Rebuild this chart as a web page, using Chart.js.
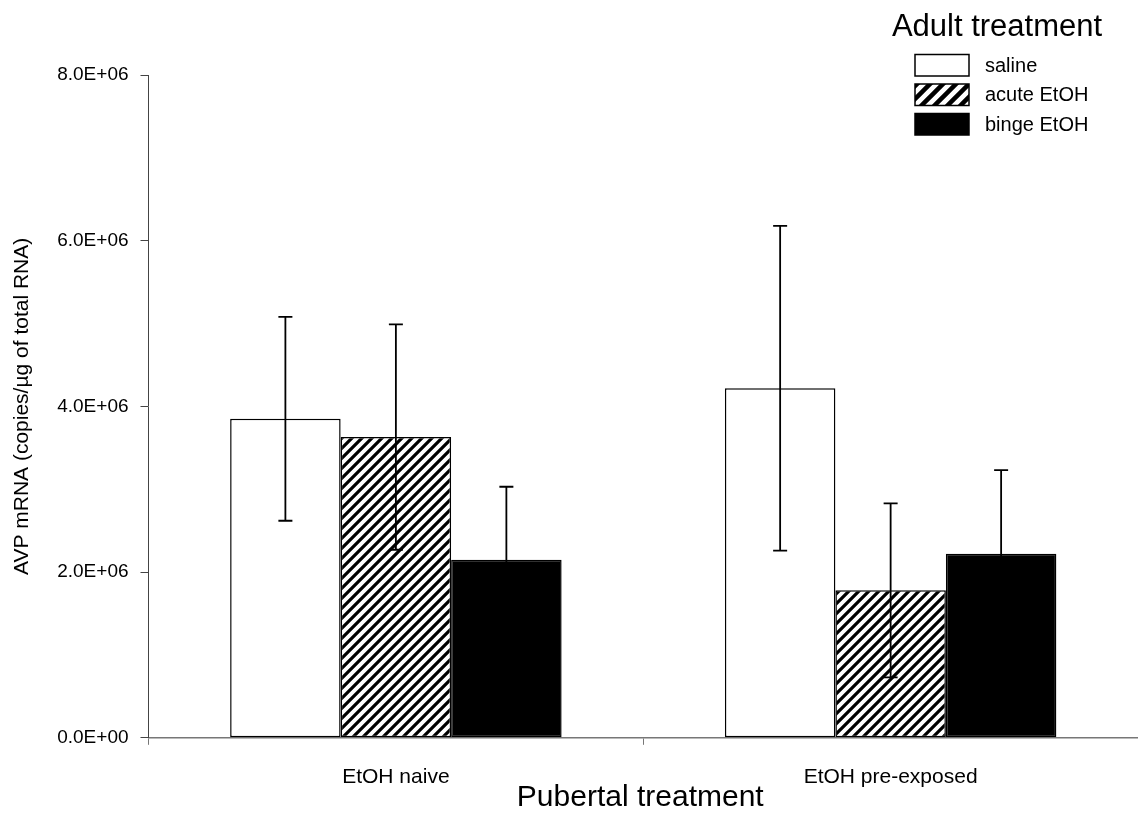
<!DOCTYPE html>
<html><head><meta charset="utf-8">
<script src="https://cdn.jsdelivr.net/npm/chart.js@4.4.1/dist/chart.umd.min.js"></script>
<style>html,body{margin:0;padding:0;background:#fff;}#wrap{width:1138px;height:813px;}</style>
</head><body><div id="wrap"><canvas id="c" width="1138" height="813"></canvas></div>
<script>
const categories = ['EtOH naive', 'EtOH pre-exposed'];
const seriesNames = ['saline', 'acute EtOH', 'binge EtOH'];
const salineMean = [3850000, 4220000];
const salineErr = [1230000, 1960000];
const acuteMean = [3630000, 1780000];
const acuteErr = [1360000, 1050000];
const bingeMean = [2150000, 2220000];
const bingeErr = [880000, 1010000];
const yTicks = [0, 2000000, 4000000, 6000000, 8000000];
const legendTitle = 'Adult treatment';
const xTitle = 'Pubertal treatment';
const yTitle = 'AVP mRNA (copies/\u00B5g of total RNA)';

const FONT = '"Liberation Sans", Arial, sans-serif';

function makeHatch(s, lw) {
  const p = document.createElement('canvas');
  p.width = s; p.height = s;
  const g = p.getContext('2d');
  g.fillStyle = '#fff'; g.fillRect(0, 0, s, s);
  g.strokeStyle = '#000'; g.lineWidth = lw;
  g.beginPath();
  g.moveTo(-3, s + 3); g.lineTo(s + 3, -3);
  g.moveTo(-3, 3); g.lineTo(3, -3);
  g.moveTo(s - 3, s + 3); g.lineTo(s + 3, s - 3);
  g.stroke();
  return document.getElementById('c').getContext('2d').createPattern(p, 'repeat');
}
const hatch = makeHatch(10, 3.2);
const legendHatch = makeHatch(13, 4.5);

function fmtExp(v) {
  if (v === 0) return '0.0E+00';
  const e = Math.floor(Math.log10(Math.abs(v)));
  const m = v / Math.pow(10, e);
  const es = (e < 0 ? '-' : '+') + String(Math.abs(e)).padStart(2, '0');
  return m.toFixed(1) + 'E' + es;
}

const errorBars = {
  id: 'errorBars',
  afterDatasetsDraw(chart) {
    const ctx = chart.ctx;
    const ys = chart.scales.y;
    ctx.save();
    ctx.strokeStyle = '#000';
    ctx.lineWidth = 1.8;
    chart.data.datasets.forEach((ds, i) => {
      const meta = chart.getDatasetMeta(i);
      meta.data.forEach((el, j) => {
        const m = ds.data[j], e = ds.errors[j];
        const x = el.x;
        const yt = ys.getPixelForValue(m + e);
        const yb = ys.getPixelForValue(m - e);
        const cap = 7;
        ctx.beginPath();
        ctx.moveTo(x, yt); ctx.lineTo(x, yb);
        ctx.moveTo(x - cap, yt); ctx.lineTo(x + cap, yt);
        ctx.moveTo(x - cap, yb); ctx.lineTo(x + cap, yb);
        ctx.stroke();
      });
    });
    ctx.restore();
  }
};

const customLegend = {
  id: 'customLegend',
  afterDraw(chart) {
    const ctx = chart.ctx;
    const area = chart.chartArea;
    ctx.save();
    ctx.fillStyle = '#000';
    // x-axis title
    ctx.font = '30px ' + FONT;
    ctx.textAlign = 'center';
    ctx.textBaseline = 'alphabetic';
    ctx.fillText(xTitle, (area.left + area.right) / 2 - 3, 806);
    // legend
    ctx.font = '31px ' + FONT;
    ctx.fillText(legendTitle, 997, 36);
    const bx = 915, bw = 54, bh = 21.5, y0 = 54.5, dy = 29.5;
    ctx.font = '20px ' + FONT;
    ctx.textAlign = 'left';
    ctx.textBaseline = 'middle';
    chart.data.datasets.forEach((ds, i) => {
      const y = y0 + i * dy;
      ctx.fillStyle = (ds.backgroundColor === hatch) ? legendHatch : ds.backgroundColor;
      ctx.fillRect(bx, y, bw, bh);
      ctx.strokeStyle = '#000';
      ctx.lineWidth = 1.5;
      ctx.strokeRect(bx, y, bw, bh);
      ctx.fillStyle = '#000';
      ctx.fillText(ds.label, 985, y + bh / 2 + 1);
    });
    ctx.restore();
  }
};

new Chart(document.getElementById('c'), {
  type: 'bar',
  data: {
    labels: categories,
    datasets: [
      { label: seriesNames[0], data: salineMean, errors: salineErr, backgroundColor: '#fff', borderColor: '#000', borderWidth: 1.5 },
      { label: seriesNames[1], data: acuteMean, errors: acuteErr, backgroundColor: hatch, borderColor: '#000', borderWidth: 1.5 },
      { label: seriesNames[2], data: bingeMean, errors: bingeErr, backgroundColor: '#000', borderColor: '#000', borderWidth: 1.5 }
    ]
  },
  options: {
    responsive: false,
    animation: false,
    devicePixelRatio: 1,
    layout: { padding: { top: 75, left: 0, right: 0, bottom: 3 } },
    datasets: { bar: { barPercentage: 1, categoryPercentage: 0.67, borderSkipped: false } },
    plugins: { legend: { display: false }, tooltip: { enabled: false } },
    scales: {
      x: {
        grid: { display: true, drawOnChartArea: false, drawTicks: true, tickLength: 7, color: '#777', offset: true },
        border: { display: true, color: '#777', width: 1.5 },
        ticks: { color: '#000', font: { family: FONT, size: 21 }, padding: 20 },
        title: { display: false }
      },
      y: {
        min: 0, max: 8000000,
        afterBuildTicks(axis) { axis.ticks = yTicks.map(v => ({ value: v })); },
        grid: { display: true, drawOnChartArea: false, drawTicks: true, tickLength: 8, color: '#444' },
        border: { display: true, color: '#444', width: 1 },
        ticks: { color: '#000', font: { family: FONT, size: 19 }, padding: 12, callback: (v) => fmtExp(v) },
        title: { display: true, text: yTitle, color: '#000', font: { family: FONT, size: 21 }, padding: { top: 10, bottom: 10 } }
      }
    }
  },
  plugins: [errorBars, customLegend]
});
</script>
</body></html>
